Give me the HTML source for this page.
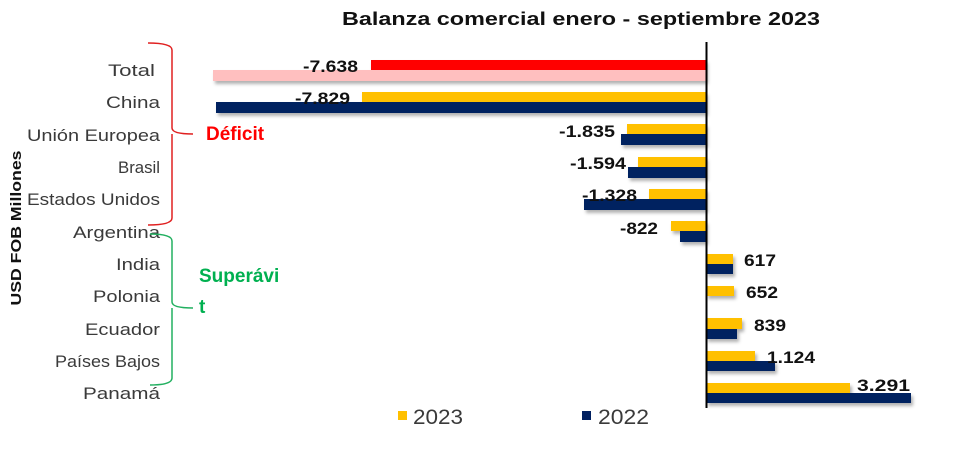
<!DOCTYPE html>
<html><head><meta charset="utf-8"><style>
html,body{margin:0;padding:0;background:#fff}
svg{display:block}
text{font-family:"Liberation Sans",sans-serif}
.c{font-size:17px;fill:#3a3a3a;text-anchor:end}
.v{font-size:17px;font-weight:bold;fill:#111}
</style></head><body>
<svg width="980" height="451" viewBox="0 0 980 451">
<defs><filter id="sh" x="-5%" y="-50%" width="110%" height="220%"><feDropShadow dx="2" dy="3" stdDeviation="1.5" flood-color="#000" flood-opacity="0.3"/></filter></defs>
<text x="342" y="25" font-size="18.5" font-weight="bold" fill="#111" textLength="478" lengthAdjust="spacingAndGlyphs">Balanza comercial enero - septiembre 2023</text>
<text transform="translate(21,228) rotate(-90)" font-size="15" font-weight="bold" text-anchor="middle" fill="#111" textLength="155" lengthAdjust="spacingAndGlyphs">USD FOB Millones</text>
<g class="c">
<text x="155" y="76" textLength="47" lengthAdjust="spacingAndGlyphs">Total</text>
<text x="160" y="108" textLength="54" lengthAdjust="spacingAndGlyphs">China</text>
<text x="160" y="141" textLength="133" lengthAdjust="spacingAndGlyphs">Unión Europea</text>
<text x="160" y="173" textLength="42" lengthAdjust="spacingAndGlyphs">Brasil</text>
<text x="160" y="205" textLength="133" lengthAdjust="spacingAndGlyphs">Estados Unidos</text>
<text x="160" y="238" textLength="87" lengthAdjust="spacingAndGlyphs">Argentina</text>
<text x="160" y="270" textLength="44" lengthAdjust="spacingAndGlyphs">India</text>
<text x="160" y="302" textLength="67" lengthAdjust="spacingAndGlyphs">Polonia</text>
<text x="160" y="335" textLength="75" lengthAdjust="spacingAndGlyphs">Ecuador</text>
<text x="160" y="367" textLength="105" lengthAdjust="spacingAndGlyphs">Países Bajos</text>
<text x="160" y="399" textLength="77" lengthAdjust="spacingAndGlyphs">Panamá</text>
</g>
<path d="M148,43 Q172,43 172,50 L172,128 Q172,134 193,134 M172,134 Q172,134 172,140 L172,218 Q172,225 148,225" fill="none" stroke="#e02020" stroke-width="1.5"/>
<path d="M150,234 Q172,234 172,241 L172,302 Q172,308 193,308 M172,308 L172,378 Q172,385 150,385" fill="none" stroke="#22b060" stroke-width="1.5"/>
<text x="206" y="140" font-size="19" font-weight="bold" fill="#ff0000">Déficit</text>
<text x="199" y="282" font-size="19" font-weight="bold" fill="#00b050">Superávi</text>
<text x="199" y="313" font-size="19" font-weight="bold" fill="#00b050">t</text>
<g filter="url(#sh)">
<rect x="371" y="60" width="335" height="10" fill="#ff0000"/>
<rect x="213" y="70" width="493" height="11" fill="#ffbfbf"/>
<rect x="362" y="92" width="344" height="10" fill="#ffc000"/>
<rect x="216" y="102" width="490" height="11" fill="#002060"/>
<rect x="627" y="124" width="79" height="10" fill="#ffc000"/>
<rect x="621" y="134" width="85" height="11" fill="#002060"/>
<rect x="638" y="157" width="68" height="10" fill="#ffc000"/>
<rect x="628" y="167" width="78" height="11" fill="#002060"/>
<rect x="649" y="189" width="57" height="10" fill="#ffc000"/>
<rect x="584" y="199" width="122" height="11" fill="#002060"/>
<rect x="671" y="221" width="35" height="10" fill="#ffc000"/>
<rect x="680" y="231" width="26" height="11" fill="#002060"/>
<rect x="706" y="254" width="27" height="10" fill="#ffc000"/>
<rect x="706" y="264" width="27" height="10" fill="#002060"/>
<rect x="706" y="286" width="28" height="10" fill="#ffc000"/>
<rect x="706" y="318" width="36" height="11" fill="#ffc000"/>
<rect x="706" y="329" width="31" height="10" fill="#002060"/>
<rect x="706" y="351" width="49" height="10" fill="#ffc000"/>
<rect x="706" y="361" width="69" height="10" fill="#002060"/>
<rect x="706" y="383" width="144" height="10" fill="#ffc000"/>
<rect x="706" y="393" width="205" height="10" fill="#002060"/>
</g>
<line x1="706.5" y1="42" x2="706.5" y2="408" stroke="#000" stroke-width="2"/>
<g class="v">
<text x="303" y="72" textLength="55" lengthAdjust="spacingAndGlyphs">-7.638</text>
<text x="295" y="104" textLength="55" lengthAdjust="spacingAndGlyphs">-7.829</text>
<text x="559" y="137" textLength="56" lengthAdjust="spacingAndGlyphs">-1.835</text>
<text x="570" y="169" textLength="56" lengthAdjust="spacingAndGlyphs">-1.594</text>
<text x="582" y="201" textLength="55" lengthAdjust="spacingAndGlyphs">-1.328</text>
<text x="620" y="234" textLength="38" lengthAdjust="spacingAndGlyphs">-822</text>
<text x="744" y="266" textLength="32" lengthAdjust="spacingAndGlyphs">617</text>
<text x="746" y="298" textLength="32" lengthAdjust="spacingAndGlyphs">652</text>
<text x="754" y="331" textLength="32" lengthAdjust="spacingAndGlyphs">839</text>
<text x="767" y="363" textLength="48" lengthAdjust="spacingAndGlyphs">1.124</text>
<text x="857" y="391" textLength="53" lengthAdjust="spacingAndGlyphs">3.291</text>
</g>
<rect x="398" y="411" width="9" height="9" fill="#ffc000"/>
<text x="413" y="424" font-size="21" fill="#3a3a3a" textLength="50" lengthAdjust="spacingAndGlyphs">2023</text>
<rect x="582" y="411" width="9" height="9" fill="#002060"/>
<text x="598" y="424" font-size="21" fill="#3a3a3a" textLength="51" lengthAdjust="spacingAndGlyphs">2022</text>
</svg>
</body></html>
